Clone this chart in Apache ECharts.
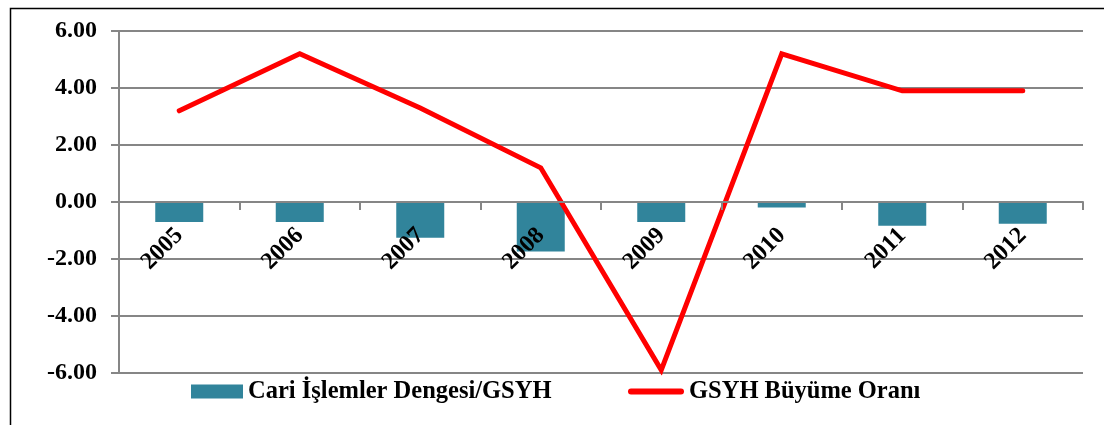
<!DOCTYPE html>
<html>
<head>
<meta charset="utf-8">
<script src="https://cdn.jsdelivr.net/npm/echarts@6/dist/echarts.min.js"></script>
<style>
html,body{margin:0;padding:0;background:#fff;}
#c{width:1104px;height:425px;}
</style>
</head>
<body>
<div id="c"></div>
<script>
const years = ['2005','2006','2007','2008','2009','2010','2011','2012'];
const cariIslemler = [-0.70, -0.70, -1.25, -1.74, -0.70, -0.19, -0.83, -0.76];
const gsyhBuyume = [3.2, 5.2, 3.3, 1.2, -5.9, 5.2, 3.9, 3.9];
const yTicks = { min: -6, max: 6, interval: 2 };
const seriesNames = ['Cari İşlemler Dengesi/GSYH', 'GSYH Büyüme Oranı'];

const font = '"Liberation Serif", "Times New Roman", serif';
const gray = '#868686';

const gridTop = 31, gridBottom = 52, H = 425;
const plotH = H - gridTop - gridBottom;
// shift the category axis (line, ticks, labels) up to the zero value line
const zeroOffset = -plotH * (0 - yTicks.min) / (yTicks.max - yTicks.min);

const legendText = { fontFamily: font, fontWeight: 'bold', fontSize: 24.5, color: '#000' };

const chart = echarts.init(document.getElementById('c'), null, { renderer: 'canvas' });
chart.setOption({
  animation: false,
  backgroundColor: '#fff',
  graphic: [{
    type: 'rect',
    left: 8, top: 6,
    shape: { x: 0, y: 0, width: 1300, height: 600 },
    style: { fill: 'none', stroke: '#000', lineWidth: 1.5 },
    silent: true
  }],
  grid: { left: 119, right: 21, top: gridTop, bottom: gridBottom },
  legend: [
    {
      bottom: 16, left: 186,
      itemWidth: 52, itemHeight: 14,
      textStyle: legendText,
      data: [{ name: seriesNames[0], icon: 'rect' }]
    },
    {
      bottom: 16, left: 623,
      itemWidth: 56, itemHeight: 14,
      textStyle: legendText,
      data: [{ name: seriesNames[1], icon: 'path://M3,0 L53,0 A3,3 0 0 1 53,6 L3,6 A3,3 0 0 1 3,0 Z' }]
    }
  ],
  xAxis: {
    type: 'category',
    data: years,
    offset: zeroOffset,
    z: 4,
    axisLine: { onZero: false, lineStyle: { color: gray, width: 2 } },
    axisTick: { show: true, length: 8, inside: false, lineStyle: { color: gray, width: 2 } },
    axisLabel: {
      rotate: 45,
      margin: 30,
      fontFamily: font, fontWeight: 'bold', fontSize: 24, color: '#000'
    },
    splitLine: { show: false }
  },
  yAxis: {
    type: 'value',
    min: yTicks.min, max: yTicks.max, interval: yTicks.interval,
    axisLine: { show: true, lineStyle: { color: gray, width: 2 } },
    axisTick: { show: true, length: 8, lineStyle: { color: gray, width: 2 } },
    axisLabel: {
      margin: 22,
      formatter: v => v.toFixed(2),
      fontFamily: font, fontWeight: 'bold', fontSize: 24, color: '#000'
    },
    splitLine: { show: true, lineStyle: { color: gray, width: 2 } }
  },
  series: [
    {
      name: seriesNames[0],
      type: 'bar',
      data: cariIslemler,
      barWidth: 48,
      itemStyle: { color: '#31849B' },
      z: 2
    },
    {
      name: seriesNames[1],
      type: 'line',
      data: gsyhBuyume,
      symbol: 'none',
      lineStyle: { color: '#FF0000', width: 5, join: 'miter', cap: 'round' },
      itemStyle: { color: '#FF0000' },
      z: 3
    }
  ]
});
</script>
</body>
</html>
